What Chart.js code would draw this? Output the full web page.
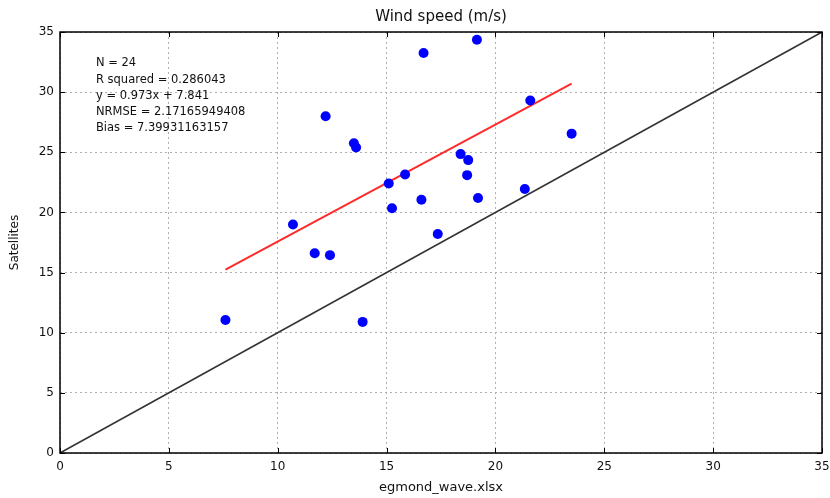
<!DOCTYPE html>
<html>
<head>
<meta charset="utf-8">
<script src="https://cdn.jsdelivr.net/npm/chart.js@4.4.1/dist/chart.umd.min.js"></script>
<style>
  html, body { margin: 0; padding: 0; background: #fff; }
  #wrap { width: 830px; height: 498px; }
</style>
</head>
<body>
<div id="wrap"><canvas id="chart" width="830" height="498"></canvas></div>
<script>
// model (egmond_wave.xlsx) vs satellite wind speed
const modelSpeed = [7.6, 10.7, 11.7, 12.4, 12.2, 13.5, 13.6, 13.9, 15.1, 15.25, 15.85, 16.6, 16.7, 17.35, 18.4, 18.75, 18.7, 19.2, 19.15, 21.35, 21.6, 23.5];
const satSpeed = [11.05, 19.0, 16.6, 16.45, 28.0, 25.75, 25.4, 10.9, 22.4, 20.35, 23.15, 21.05, 33.25, 18.2, 24.85, 24.35, 23.1, 21.2, 34.35, 21.95, 29.3, 26.55];
const fitX = [7.6, 23.5];
const fitY = [15.24, 30.71]; // y = 0.973x + 7.841
const oneToOne = [0, 35];
const ticks = [0, 5, 10, 15, 20, 25, 30, 35];
const statsText = [
  "N = 24",
  "R squared = 0.286043",
  "y = 0.973x + 7.841",
  "NRMSE = 2.17165949408",
  "Bias = 7.39931163157"
];

const font = "'DejaVu Sans', sans-serif";

const framePlugin = {
  id: "frame",
  afterDraw(chart) {
    const { ctx, chartArea: a, scales } = chart;
    ctx.save();
    // inward tick marks on all sides
    ctx.strokeStyle = "#000";
    ctx.lineWidth = 1;
    ticks.forEach(t => {
      const px = Math.round(scales.x.getPixelForValue(t)) + 0.5;
      const py = Math.round(scales.y.getPixelForValue(t)) + 0.5;
      ctx.beginPath();
      ctx.moveTo(px, a.bottom); ctx.lineTo(px, a.bottom - 5);
      ctx.moveTo(px, a.top); ctx.lineTo(px, a.top + 5);
      ctx.moveTo(a.left, py); ctx.lineTo(a.left + 5, py);
      ctx.moveTo(a.right, py); ctx.lineTo(a.right - 5, py);
      ctx.stroke();
    });
    ctx.lineWidth = 1.5;
    ctx.strokeRect(a.left, a.top, a.right - a.left, a.bottom - a.top);

    // title
    ctx.fillStyle = "#111";
    ctx.font = "15px " + font;
    ctx.textAlign = "center";
    ctx.textBaseline = "middle";
    ctx.fillText("Wind speed (m/s)", (a.left + a.right) / 2, 17);

    // stats box
    ctx.font = "11.5px " + font;
    ctx.textAlign = "left";
    const x0 = scales.x.getPixelForValue(1.65);
    const y0 = scales.y.getPixelForValue(32.4);
    statsText.forEach((s, i) => ctx.fillText(s, x0, y0 + i * 16.3));
    ctx.restore();
  }
};

new Chart(document.getElementById("chart"), {
  type: "scatter",
  data: {
    datasets: [
      {
        data: modelSpeed.map((x, i) => ({ x, y: satSpeed[i] })),
        backgroundColor: "#0000ff",
        borderWidth: 0,
        pointRadius: 5,
        order: 0
      },
      {
        type: "line",
        data: fitX.map((x, i) => ({ x, y: fitY[i] })),
        borderColor: "#ff2a2a",
        borderWidth: 2,
        pointRadius: 0,
        order: 1
      },
      {
        type: "line",
        data: oneToOne.map(v => ({ x: v, y: v })),
        borderColor: "#333333",
        borderWidth: 1.6,
        pointRadius: 0,
        order: 2
      }
    ]
  },
  options: {
    responsive: false,
    animation: false,
    layout: { padding: { top: 32, right: 8, left: 0, bottom: 0 } },
    plugins: { legend: { display: false }, tooltip: { enabled: false } },
    scales: {
      x: {
        type: "linear",
        min: 0, max: 35,
        afterBuildTicks: s => { s.ticks = ticks.map(v => ({ value: v })); },
        afterFit: s => { s.height = 45; s.paddingRight = 0; s.paddingLeft = 0; },
        grid: { color: "#b0b0b0", drawTicks: false },
        border: { display: false, dash: [2, 3] },
        ticks: { color: "#111", font: { family: font, size: 12 }, padding: 7 },
        title: { display: true, text: "egmond_wave.xlsx", color: "#111", font: { family: font, size: 13 }, padding: { top: 0, bottom: 3 } }
      },
      y: {
        type: "linear",
        min: 0, max: 35,
        afterBuildTicks: s => { s.ticks = ticks.map(v => ({ value: v })); },
        afterFit: s => { s.width = 60; s.paddingTop = 0; s.paddingBottom = 0; },
        grid: { color: "#b0b0b0", drawTicks: false },
        border: { display: false, dash: [2, 3] },
        ticks: { color: "#111", font: { family: font, size: 12 }, padding: 6 },
        title: { display: true, text: "Satellites", color: "#111", font: { family: font, size: 12 }, padding: { top: 8, bottom: 0 } }
      }
    }
  },
  plugins: [framePlugin]
});
</script>
</body>
</html>
